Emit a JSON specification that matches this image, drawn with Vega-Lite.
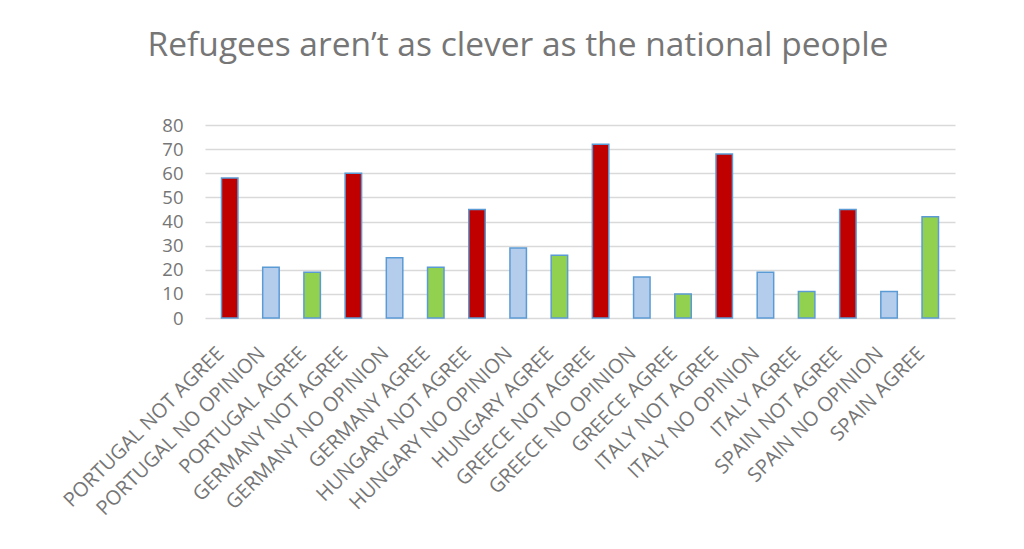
{
  "$schema": "https://vega.github.io/schema/vega-lite/v6.json",
  "autosize": {"type": "none"},
  "width": 750,
  "height": 193,
  "padding": {"left": 205, "top": 125, "right": 69, "bottom": 231},
  "background": "white",
  "title": {
    "text": "Refugees aren’t as clever as the national people",
    "font": "Open Sans",
    "fontSize": 33.5,
    "fontWeight": "normal",
    "color": "#767676",
    "anchor": "middle",
    "dx": -62,
    "offset": 53
  },
  "data": {
    "values": [
      {"label": "PORTUGAL NOT AGREE", "answer": "NOT AGREE", "value": 58},
      {"label": "PORTUGAL NO OPINION", "answer": "NO OPINION", "value": 21},
      {"label": "PORTUGAL AGREE", "answer": "AGREE", "value": 19},
      {"label": "GERMANY NOT AGREE", "answer": "NOT AGREE", "value": 60},
      {"label": "GERMANY NO OPINION", "answer": "NO OPINION", "value": 25},
      {"label": "GERMANY AGREE", "answer": "AGREE", "value": 21},
      {"label": "HUNGARY NOT AGREE", "answer": "NOT AGREE", "value": 45},
      {"label": "HUNGARY NO OPINION", "answer": "NO OPINION", "value": 29},
      {"label": "HUNGARY AGREE", "answer": "AGREE", "value": 26},
      {"label": "GREECE NOT AGREE", "answer": "NOT AGREE", "value": 72},
      {"label": "GREECE NO OPINION", "answer": "NO OPINION", "value": 17},
      {"label": "GREECE AGREE", "answer": "AGREE", "value": 10},
      {"label": "ITALY NOT AGREE", "answer": "NOT AGREE", "value": 68},
      {"label": "ITALY NO OPINION", "answer": "NO OPINION", "value": 19},
      {"label": "ITALY AGREE", "answer": "AGREE", "value": 11},
      {"label": "SPAIN NOT AGREE", "answer": "NOT AGREE", "value": 45},
      {"label": "SPAIN NO OPINION", "answer": "NO OPINION", "value": 11},
      {"label": "SPAIN AGREE", "answer": "AGREE", "value": 42}
    ]
  },
  "mark": {"type": "bar", "stroke": "#5B9BD5", "strokeWidth": 1.5},
  "encoding": {
    "x": {
      "field": "label",
      "type": "nominal",
      "sort": null,
      "scale": {"paddingInner": 0.6, "paddingOuter": 0.4},
      "axis": {
        "title": null,
        "labelAngle": -45,
        "labelFont": "Open Sans",
        "labelFontSize": 20,
        "labelColor": "#767676",
        "labelPadding": 25,
        "labelOffset": -16,
        "ticks": false,
        "domain": false,
        "labelLimit": 400
      }
    },
    "y": {
      "field": "value",
      "type": "quantitative",
      "scale": {"domain": [0, 80]},
      "axis": {
        "title": null,
        "values": [0, 10, 20, 30, 40, 50, 60, 70, 80],
        "labelFont": "Open Sans",
        "labelFontSize": 18.5,
        "labelColor": "#767676",
        "labelPadding": 22,
        "ticks": false,
        "domain": false,
        "gridColor": "#D9D9D9",
        "gridWidth": 1.5
      }
    },
    "color": {
      "field": "answer",
      "type": "nominal",
      "scale": {
        "domain": ["NOT AGREE", "NO OPINION", "AGREE"],
        "range": ["#C00000", "#B4CDED", "#92D050"]
      },
      "legend": null
    }
  },
  "config": {"view": {"stroke": null}}
}
